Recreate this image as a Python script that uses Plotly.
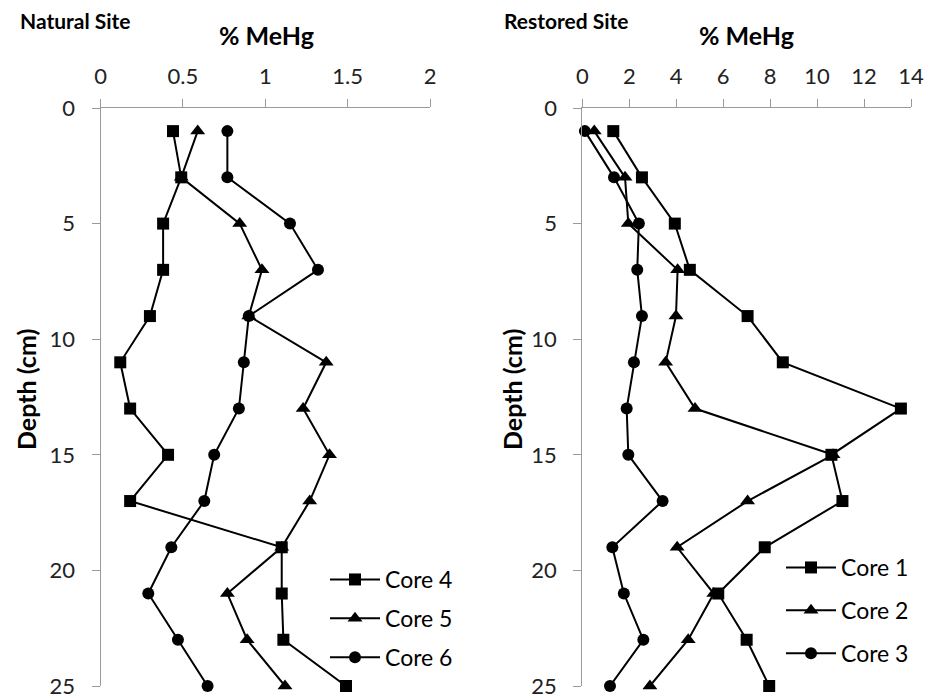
import plotly.graph_objects as go

depth = [1, 3, 5, 7, 9, 11, 13, 15, 17, 19, 21, 23, 25]

core4 = [0.44, 0.49, 0.38, 0.38, 0.30, 0.12, 0.18, 0.41, 0.18, 1.10, 1.10, 1.11, 1.49]
core5 = [0.59, 0.49, 0.845, 0.98, 0.90, 1.37, 1.23, 1.39, 1.27, 1.10, 0.77, 0.89, 1.12]
core6 = [0.77, 0.77, 1.15, 1.32, 0.90, 0.87, 0.84, 0.69, 0.63, 0.43, 0.29, 0.47, 0.65]

core1 = [1.32, 2.54, 3.94, 4.58, 7.04, 8.54, 13.57, 10.61, 11.08, 7.77, 5.79, 7.0, 7.96]
core2 = [0.51, 1.82, 1.96, 4.06, 3.99, 3.55, 4.80, 10.68, 7.04, 4.04, 5.60, 4.51, 2.88]
core3 = [0.11, 1.35, 2.41, 2.34, 2.54, 2.20, 1.89, 1.96, 3.42, 1.28, 1.77, 2.60, 1.18]

natural_x_ticks = [0, 0.5, 1, 1.5, 2]
restored_x_ticks = [0, 2, 4, 6, 8, 10, 12, 14]
depth_ticks = [0, 5, 10, 15, 20, 25]

FONT = "Lato"
W, H = 931, 698

fig = go.Figure()

def add(xv, name, symbol, size, xa, ya, legend):
    fig.add_trace(go.Scatter(
        x=xv, y=depth, mode="lines+markers", name=name,
        line=dict(color="black", width=2),
        marker=dict(symbol=symbol, size=size, color="black"),
        xaxis=xa, yaxis=ya, legend=legend, legendgroup=name,
        cliponaxis=False,
    ))

add(core4, "Core 4", "square", 12, "x", "y", "legend")
add(core5, "Core 5", "triangle-up", 13, "x", "y", "legend")
add(core6, "Core 6", "circle", 12, "x", "y", "legend")
add(core1, "Core 1", "square", 12, "x2", "y2", "legend2")
add(core2, "Core 2", "triangle-up", 13, "x2", "y2", "legend2")
add(core3, "Core 3", "circle", 12, "x2", "y2", "legend2")

ytop = 108
ybot = 686
ydom = [(H - ybot) / H, (H - ytop) / H]

axis_common = dict(
    showline=True, linecolor="#9a9a9a", linewidth=1,
    ticks="outside", tickcolor="#9a9a9a", ticklen=8, tickwidth=1,
    showgrid=False, zeroline=False,
    tickfont=dict(family=FONT, size=22, color="#222"),
    ticklabeloverflow="allow",
    automargin=False,
)

fig.update_layout(
    width=W, height=H,
    margin=dict(l=0, r=0, t=0, b=0),
    paper_bgcolor="white", plot_bgcolor="white",
    font=dict(family=FONT, color="black"),
    xaxis=dict(domain=[100.5 / W, 430 / W], range=[0, 2], side="top",
               tickvals=natural_x_ticks, anchor="y", ticklabelstandoff=6, **axis_common),
    yaxis=dict(domain=ydom, range=[25, 0], tickvals=depth_ticks,
               anchor="x", ticklabelstandoff=12, **axis_common),
    xaxis2=dict(domain=[582.3 / W, 911 / W], range=[0, 14], side="top",
                tickvals=restored_x_ticks, anchor="y2", ticklabelstandoff=6, **axis_common),
    yaxis2=dict(domain=ydom, range=[25, 0], tickvals=depth_ticks,
                anchor="x2", ticklabelstandoff=12, **axis_common),
    legend=dict(x=325 / W, y=(H - 558) / H, xanchor="left", yanchor="top",
                font=dict(family=FONT, size=23, color="black"), itemwidth=50,
                bgcolor="rgba(0,0,0,0)", tracegroupgap=6, traceorder="grouped"),
    legend2=dict(x=781 / W, y=(H - 546) / H, xanchor="left", yanchor="top",
                 font=dict(family=FONT, size=23, color="black"), itemwidth=50,
                 bgcolor="rgba(0,0,0,0)", tracegroupgap=10, traceorder="grouped"),
    showlegend=True,
)

annots = [
    dict(text="<b>Natural Site</b>", x=18 / W, y=(H - 20) / H, size=21, xanchor="left"),
    dict(text="<b>Restored Site</b>", x=502 / W, y=(H - 20) / H, size=21, xanchor="left"),
    dict(text="<b>% MeHg</b>", x=266 / W, y=(H - 35) / H, size=25, xanchor="center"),
    dict(text="<b>% MeHg</b>", x=746.5 / W, y=(H - 35) / H, size=25, xanchor="center"),
]
for a in annots:
    fig.add_annotation(text=a["text"], x=a["x"], y=a["y"], xref="paper", yref="paper",
                       xanchor=a["xanchor"], yanchor="middle", showarrow=False,
                       font=dict(family=FONT, size=a["size"], color="black"))

for xpos in [26, 512]:
    fig.add_annotation(text="<b>Depth (cm)</b>", x=xpos / W, y=(H - 390) / H,
                       xref="paper", yref="paper", textangle=-90,
                       xanchor="center", yanchor="middle", showarrow=False,
                       font=dict(family=FONT, size=25, color="black"))

fig.write_html("out.html")
